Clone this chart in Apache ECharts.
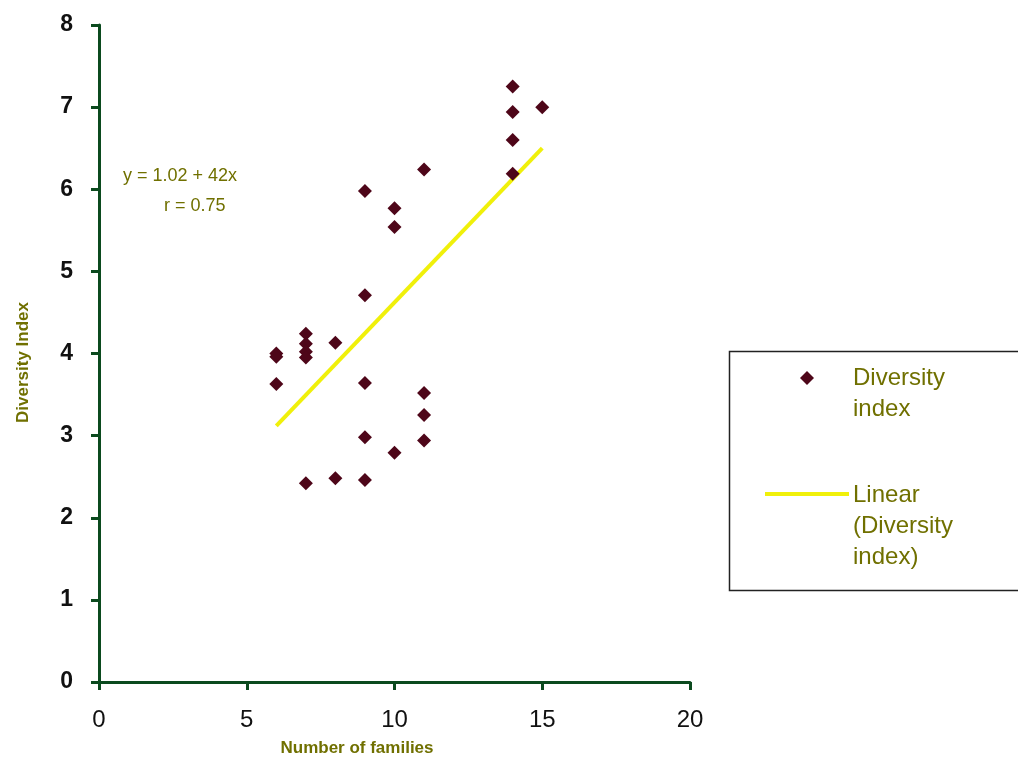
<!DOCTYPE html>
<html><head><meta charset="utf-8">
<script src="https://cdn.jsdelivr.net/npm/echarts@6/dist/echarts.min.js"></script>
<style>html,body{margin:0;padding:0;background:#fff}#c{width:1018px;height:764px}</style>
</head><body><div id="c"></div>
<script>
const families = [6, 6, 6, 7, 7, 7, 7, 7, 8, 8, 9, 9, 9, 9, 9, 10, 10, 10, 11, 11, 11, 11, 14, 14, 14, 14, 15];
const diversity = [4.0, 3.96, 3.63, 4.24, 4.12, 4.02, 3.95, 2.42, 4.13, 2.48, 5.98, 4.71, 3.64, 2.98, 2.46, 5.77, 5.54, 2.79, 6.24, 3.52, 3.25, 2.94, 7.25, 6.94, 6.6, 6.19, 7.0];
const trendX = [6, 15];
const trendY = [3.12, 6.5];
const xTicks = [0, 5, 10, 15, 20];
const yTicks = [0, 1, 2, 3, 4, 5, 6, 7, 8];
const seriesNames = ['Diversity index', 'Linear (Diversity index)'];

const olive = '#707000';
const axisGreen = '#0b4a1e';
const markColor = '#4e0619';
const lineColor = '#f0f00a';
const chart = echarts.init(document.getElementById('c'));
const legendFont = '24px "Liberation Sans"';
chart.setOption({
  animation: false,
  backgroundColor: '#fff',
  grid: { left: 99, right: 328, top: 25, bottom: 82, outerBoundsMode: 'none', containLabel: false },
  xAxis: {
    type: 'value', min: xTicks[0], max: xTicks[xTicks.length - 1], interval: 5,
    name: 'Number of families', nameLocation: 'middle', nameGap: 58,
    nameTextStyle: { color: olive, fontSize: 17, fontWeight: 'bold', fontFamily: 'Liberation Sans', padding: [0, 75, 0, 0] },
    axisLine: { lineStyle: { color: axisGreen, width: 3 } },
    axisTick: { show: true, length: 8, lineStyle: { color: axisGreen, width: 3 } },
    axisLabel: { color: '#111', fontSize: 24, fontFamily: 'Liberation Sans', margin: 26 },
    splitLine: { show: false }
  },
  yAxis: {
    type: 'value', min: yTicks[0], max: yTicks[yTicks.length - 1], interval: 1,
    name: 'Diversity Index', nameLocation: 'middle', nameGap: 67, nameRotate: 90,
    nameTextStyle: { color: olive, fontSize: 17, fontWeight: 'bold', fontFamily: 'Liberation Sans', padding: [0, 18, 0, 0] },
    axisLine: { show: true, lineStyle: { color: axisGreen, width: 3 } },
    axisTick: { show: true, length: 8, lineStyle: { color: axisGreen, width: 3 } },
    axisLabel: { color: '#111', fontSize: 23, fontWeight: 'bold', fontFamily: 'Liberation Sans', margin: 26 },
    splitLine: { show: false }
  },
  legend: { show: false, data: seriesNames },
  graphic: [
    { type: 'rect', left: 727, top: 349, shape: { width: 300, height: 239 }, style: { fill: 'none', stroke: '#222', lineWidth: 1.5 }, z: -1 },
    { type: 'polygon', shape: { points: [[807, 371], [814, 378], [807, 385], [800, 378]] }, style: { fill: markColor } },
    { type: 'text', left: 853, top: 363, style: { text: 'Diversity\nindex', fill: olive, font: legendFont, lineHeight: 31 } },
    { type: 'line', shape: { x1: 765, y1: 494, x2: 849, y2: 494 }, style: { stroke: lineColor, lineWidth: 4 } },
    { type: 'text', left: 853, top: 480, style: { text: 'Linear\n(Diversity\nindex)', fill: olive, font: legendFont, lineHeight: 31 } },
    { type: 'text', left: 123, top: 167, style: { text: 'y = 1.02 + 42x', fill: olive, font: '18px "Liberation Sans"' } },
    { type: 'text', left: 164, top: 197, style: { text: 'r = 0.75', fill: olive, font: '18px "Liberation Sans"' } }
  ],
  series: [
    {
      name: seriesNames[0], type: 'scatter', symbol: 'diamond', symbolSize: 14,
      itemStyle: { color: markColor, opacity: 1 },
      data: families.map((f, i) => [f, diversity[i]]), z: 3
    },
    {
      name: seriesNames[1], type: 'line', symbol: 'none', showSymbol: false,
      lineStyle: { color: lineColor, width: 4 }, itemStyle: { color: lineColor },
      data: trendX.map((x, i) => [x, trendY[i]]), z: 2
    }
  ]
});
</script></body></html>
